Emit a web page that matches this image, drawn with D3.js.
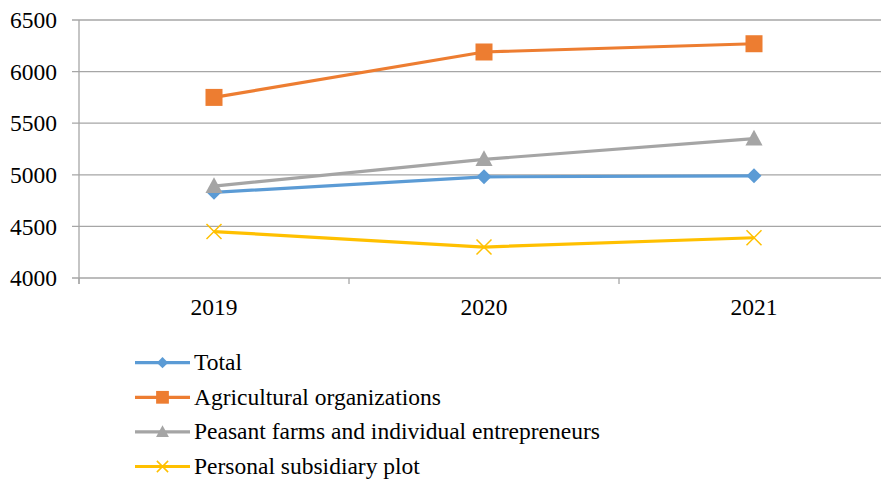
<!DOCTYPE html>
<html><head><meta charset="utf-8">
<script src="https://cdn.jsdelivr.net/npm/d3@7"></script>
<style>
html,body{margin:0;padding:0;background:#fff;}
svg{display:block;}
</style></head>
<body>
<svg id="c" width="881" height="480"></svg>
<script>
const categories = ["2019","2020","2021"];
const yTicks = [4000,4500,5000,5500,6000,6500];
const seriesNames = ["Total","Agricultural organizations","Peasant farms and individual entrepreneurs","Personal subsidiary plot"];
const totalValues = [4830,4980,4990];
const agriValues = [5750,6190,6270];
const peasantValues = [4890,5150,5350];
const personalValues = [4450,4300,4390];

(function(){
const FONT = '"Liberation Serif", "Times New Roman", serif';
const FS = 23.5;
const series = [
  {name:seriesNames[0], values:totalValues, color:"#5B9BD5", marker:"diamond"},
  {name:seriesNames[1], values:agriValues, color:"#ED7D31", marker:"square"},
  {name:seriesNames[2], values:peasantValues, color:"#A5A5A5", marker:"triangle"},
  {name:seriesNames[3], values:personalValues, color:"#FFC000", marker:"x"}
];

const svg = d3.select("#c");
const pLeft = 79, pRight = 889, pTop = 20, pBottom = 278;
const x = d3.scaleBand().domain(categories).range([pLeft,pRight]);
const y = d3.scaleLinear().domain([4000,6500]).range([pBottom,pTop]);
const cx = c => x(c) + x.bandwidth()/2;
const grid = "#A6A6A6";

svg.append("g").selectAll("line").data(yTicks).join("line")
  .attr("x1",72).attr("x2",881)
  .attr("y1",d=>y(d)).attr("y2",d=>y(d))
  .attr("stroke",grid).attr("stroke-width",1.3);

const ya = svg.append("g").attr("transform",`translate(${pLeft},0)`)
  .call(d3.axisLeft(y).tickValues(yTicks).tickSize(0).tickPadding(22).tickFormat(d3.format("d")));
ya.select(".domain").remove();
ya.selectAll("text").style("font-family",FONT).style("font-size",FS+"px").attr("fill","#000").attr("dy","0.33em");

svg.append("line").attr("x1",pLeft).attr("x2",pLeft).attr("y1",pTop).attr("y2",pBottom+6)
  .attr("stroke",grid).attr("stroke-width",1.3);

const edges = categories.map(c=>x(c)).concat([x(categories[categories.length-1])+x.bandwidth()]);
svg.append("g").selectAll("line").data(edges).join("line")
  .attr("x1",d=>d).attr("x2",d=>d).attr("y1",pBottom).attr("y2",pBottom+6)
  .attr("stroke",grid).attr("stroke-width",1.3);

const xa = svg.append("g").attr("transform",`translate(0,${pBottom})`)
  .call(d3.axisBottom(x).tickSize(0).tickPadding(0));
xa.select(".domain").remove();
xa.selectAll("text").style("font-family",FONT).style("font-size",FS+"px").attr("fill","#000")
  .attr("dy",null).attr("y",37);

function drawMarker(g, type, px, py, color, s){
  if(type==="diamond"){
    g.append("path").attr("d",`M${px},${py-s}L${px+s},${py}L${px},${py+s}L${px-s},${py}Z`).attr("fill",color);
  } else if(type==="square"){
    g.append("rect").attr("x",px-s).attr("y",py-s).attr("width",2*s).attr("height",2*s).attr("fill",color);
  } else if(type==="triangle"){
    g.append("path").attr("d",`M${px},${py-s}L${px+s*0.95},${py+s*0.75}L${px-s*0.95},${py+s*0.75}Z`).attr("fill",color);
  } else {
    g.append("path").attr("d",`M${px-s},${py-s}L${px+s},${py+s}M${px+s},${py-s}L${px-s},${py+s}`)
      .attr("stroke",color).attr("stroke-width",1.5).attr("fill","none");
  }
}
const sizes = {diamond:7.5, square:8.5, triangle:9, x:7.5};

const line = d3.line().x((d,i)=>cx(categories[i])).y(d=>y(d));
series.forEach(s=>{
  const g = svg.append("g");
  g.append("path").datum(s.values).attr("d",line).attr("fill","none")
    .attr("stroke",s.color).attr("stroke-width",3.2).attr("stroke-linejoin","round");
  s.values.forEach((v,i)=>drawMarker(g,s.marker,cx(categories[i]),y(v),s.color,sizes[s.marker]));
});

const lg = svg.append("g");
series.forEach((s,i)=>{
  const ly = 362.7 + i*34.6;
  const g = lg.append("g");
  g.append("line").attr("x1",135).attr("x2",190).attr("y1",ly).attr("y2",ly)
    .attr("stroke",s.color).attr("stroke-width",3.2);
  drawMarker(g,s.marker,162.5,ly,s.color,sizes[s.marker]*0.75);
  g.append("text").attr("x",194).attr("y",ly+7.5).style("font-family",FONT).style("font-size",FS+"px")
    .attr("fill","#000").text(s.name);
});
})();
</script>
</body></html>
